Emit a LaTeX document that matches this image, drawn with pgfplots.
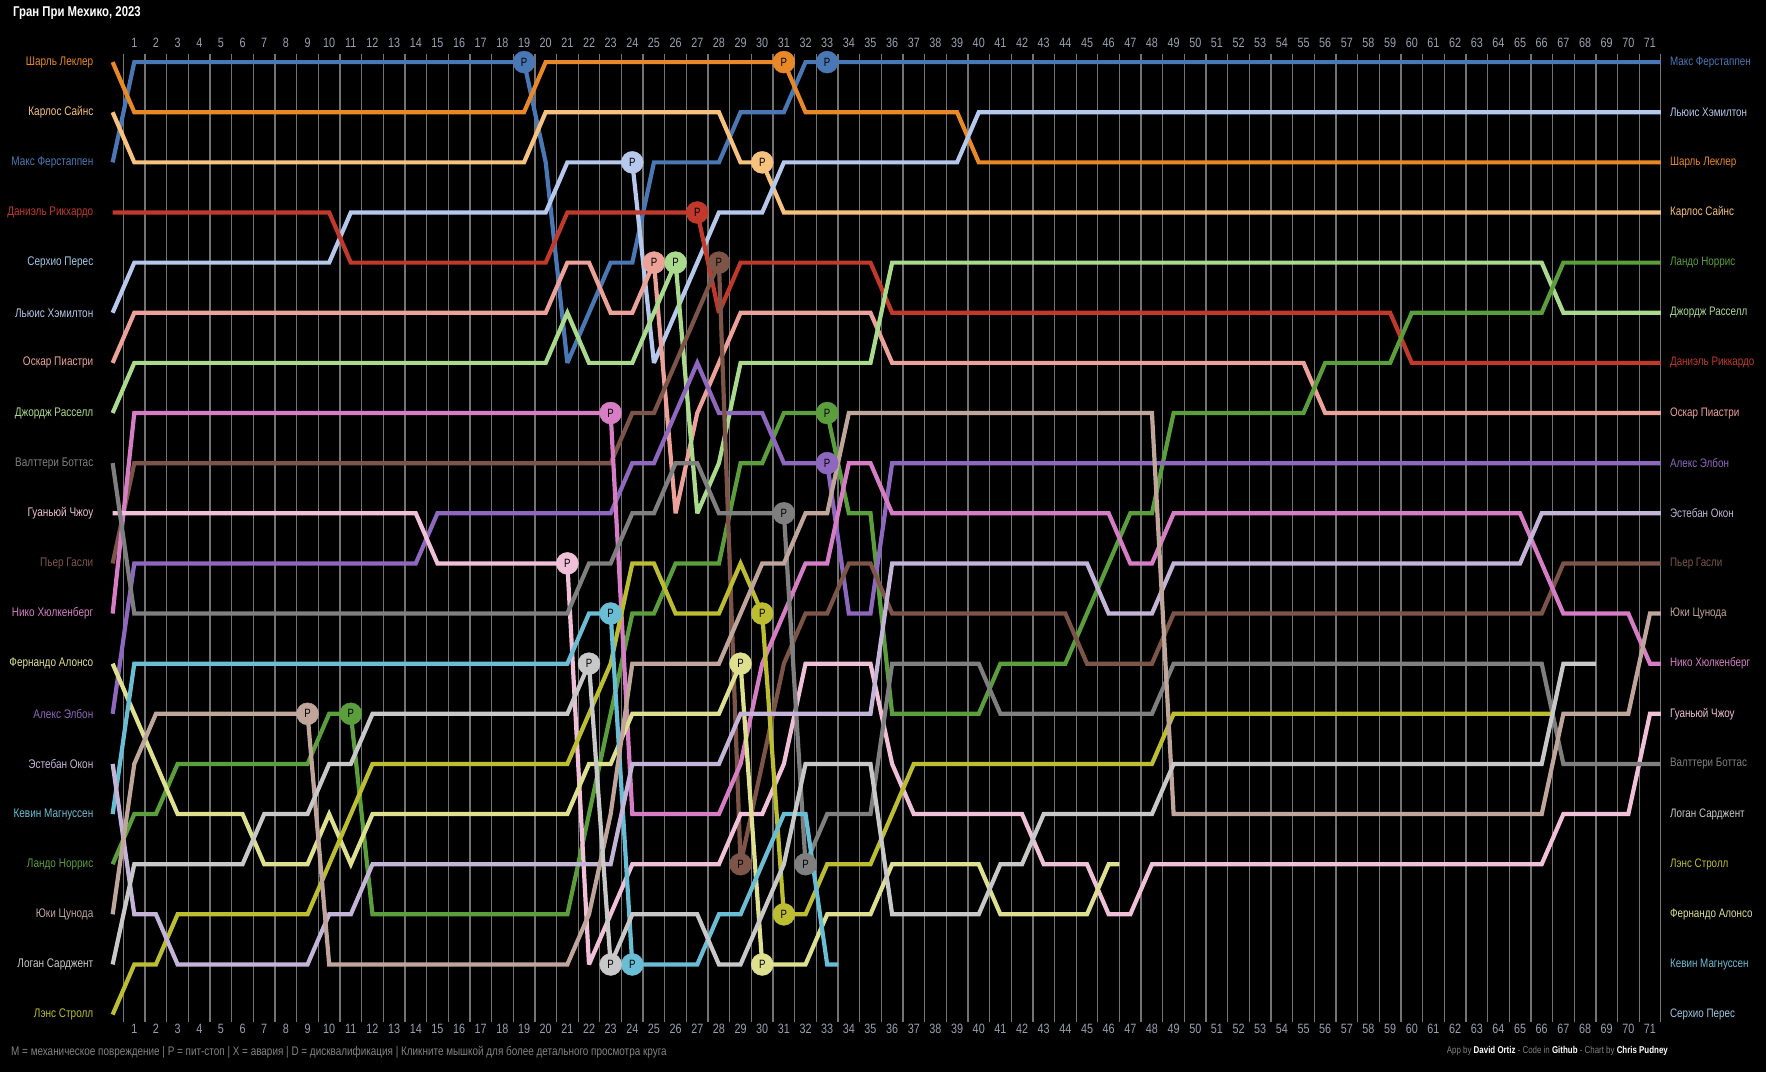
\documentclass[border=0pt]{standalone}
\usepackage{fontspec}
\setmainfont{Liberation Sans}[FakeStretch=0.8]
\usepackage{pgfplots}
\pgfplotsset{compat=1.18}
\definecolor{cver}{RGB}{74,120,181}
\definecolor{clec}{RGB}{232,136,38}
\definecolor{csai}{RGB}{246,194,125}
\definecolor{cham}{RGB}{182,200,236}
\definecolor{cper}{RGB}{160,200,230}
\definecolor{cric}{RGB}{192,57,43}
\definecolor{cpia}{RGB}{236,162,152}
\definecolor{crus}{RGB}{170,218,140}
\definecolor{cnor}{RGB}{91,158,60}
\definecolor{calb}{RGB}{142,103,190}
\definecolor{coco}{RGB}{196,180,216}
\definecolor{cgas}{RGB}{125,85,72}
\definecolor{ctsu}{RGB}{192,165,154}
\definecolor{chul}{RGB}{214,125,197}
\definecolor{czho}{RGB}{240,192,216}
\definecolor{cbot}{RGB}{127,127,127}
\definecolor{csar}{RGB}{200,200,200}
\definecolor{cstr}{RGB}{188,189,48}
\definecolor{calo}{RGB}{222,224,143}
\definecolor{cmag}{RGB}{105,190,214}
\definecolor{gridcol}{RGB}{115,115,115}
\definecolor{tickcol}{RGB}{150,160,175}
\definecolor{footcol}{RGB}{130,130,130}
\pgfplotsset{
  drv/.style={line width=4.2pt, mark=none, color=#1, line join=miter, miter limit=3},
  pit/.style={only marks, mark=*, mark size=11pt, color=#1,
    mark options={fill=#1, draw=#1},
    nodes near coords={P},
    every node near coord/.append style={anchor=center, text=black, inner sep=0pt,
      font=\fontsize{12}{12}\selectfont}},
  base/.style={scale only axis, width=1580.67pt, height=968.3pt,
    at={(91pt,50pt)}, anchor=south west,
    xmin=-1, xmax=72, ymin=0.8324, ymax=20.148, y dir=reverse,
    axis line style={draw=none}, ytick=\empty,
    xtick={1,...,71}, major tick length=0pt, minor tick length=0pt,
    /pgf/number format/assume math mode=true,
    clip=false}
}
\newcommand{\lbl}[3]{\node[anchor=east, inner sep=0pt, text=#3, font=\fontsize{12.5}{13}\selectfont] at (axis cs:-0.884,#1) {#2};}
\newcommand{\rbl}[3]{\node[anchor=west, inner sep=0pt, text=#3, font=\fontsize{12.3}{13}\selectfont] at (axis cs:71.92,#1) {#2};}
\begin{document}
\begin{tikzpicture}[x=1pt,y=1pt]
\fill[black] (0,0) rectangle (1766,1072);
\useasboundingbox (0,0) rectangle (1766,1072);
\begin{axis}[base,
  minor xtick={0.5,1.5,...,71.5},
  xminorgrids=true,
  minor grid style={draw=gridcol, line width=1.3pt},
  xticklabel style={font=\fontsize{13.5}{14}\selectfont, text=tickcol, inner sep=0pt, yshift=-2pt}]
% drivers
\addplot[drv=cver] coordinates {(0,3)(1,1)(19,1)(20,3)(21,7)(22,6)(23,5)(24,5)(25,3)(28,3)(29,2)(31,2)(32,1)(71.5,1)};
\addplot[drv=clec] coordinates {(0,1)(1,2)(19,2)(20,1)(31,1)(32,2)(39,2)(40,3)(71.5,3)};
\addplot[drv=csai] coordinates {(0,2)(1,3)(19,3)(20,2)(28,2)(29,3)(30,3)(31,4)(71.5,4)};
\addplot[drv=cham] coordinates {(0,6)(1,5)(10,5)(11,4)(20,4)(21,3)(24,3)(25,7)(26,6)(27,5)(28,4)(30,4)(31,3)(39,3)(40,2)(71.5,2)};
\addplot[drv=cric] coordinates {(0,4)(10,4)(11,5)(20,5)(21,4)(27,4)(28,6)(29,5)(35,5)(36,6)(59,6)(60,7)(71.5,7)};
\addplot[drv=cpia] coordinates {(0,7)(1,6)(20,6)(21,5)(22,5)(23,6)(24,6)(25,5)(26,10)(27,8)(28,7)(29,6)(35,6)(36,7)(55,7)(56,8)(71.5,8)};
\addplot[drv=crus] coordinates {(0,8)(1,7)(20,7)(21,6)(22,7)(24,7)(25,6)(26,5)(27,10)(28,9)(29,7)(35,7)(36,5)(66,5)(67,6)(71.5,6)};
\addplot[drv=cnor] coordinates {(0,17)(1,16)(2,16)(3,15)(9,15)(10,14)(11,14)(12,18)(21,18)(22,16)(23,14)(24,12)(25,12)(26,11)(28,11)(29,9)(30,9)(31,8)(33,8)(34,10)(35,10)(36,14)(40,14)(41,13)(44,13)(45,12)(46,11)(47,10)(48,10)(49,8)(55,8)(56,7)(59,7)(60,6)(66,6)(67,5)(71.5,5)};
\addplot[drv=calb] coordinates {(0,14)(1,11)(14,11)(15,10)(23,10)(24,9)(25,9)(26,8)(27,7)(28,8)(30,8)(31,9)(33,9)(34,12)(35,12)(36,9)(71.5,9)};
\addplot[drv=cgas] coordinates {(0,11)(1,9)(23,9)(24,8)(25,8)(26,7)(27,6)(28,5)(29,17)(30,15)(31,13)(32,12)(33,12)(34,11)(35,11)(36,12)(44,12)(45,13)(48,13)(49,12)(66,12)(67,11)(71.5,11)};
\addplot[drv=chul] coordinates {(0,12)(1,8)(23,8)(24,16)(28,16)(29,15)(30,13)(31,12)(32,11)(33,11)(34,9)(35,9)(36,10)(46,10)(47,11)(48,11)(49,10)(65,10)(66,11)(67,12)(70,12)(71,13)(71.5,13)};
\addplot[drv=czho] coordinates {(0,10)(14,10)(15,11)(21,11)(22,19)(23,18)(24,17)(28,17)(29,16)(30,16)(31,15)(32,13)(35,13)(36,15)(37,16)(42,16)(43,17)(45,17)(46,18)(47,18)(48,17)(66,17)(67,16)(70,16)(71,14)(71.5,14)};
\addplot[drv=cbot] coordinates {(0,9)(1,12)(21,12)(22,11)(23,11)(24,10)(25,10)(26,9)(27,9)(28,10)(31,10)(32,17)(33,16)(35,16)(36,13)(40,13)(41,14)(48,14)(49,13)(66,13)(67,15)(71.5,15)};
\addplot[drv=calo] coordinates {(0,13)(3,16)(6,16)(7,17)(9,17)(10,16)(11,17)(12,16)(21,16)(22,15)(23,15)(24,14)(28,14)(29,13)(30,19)(32,19)(33,18)(35,18)(36,17)(40,17)(41,18)(45,18)(46,17)(46.5,17)};
\addplot[drv=cstr] coordinates {(0,20)(1,19)(2,19)(3,18)(9,18)(12,15)(21,15)(22,14)(23,13)(24,11)(25,11)(26,12)(28,12)(29,11)(30,12)(31,18)(32,18)(33,17)(35,17)(37,15)(48,15)(49,14)(66,14)(66.5,14)};
\addplot[drv=cmag] coordinates {(0,16)(1,13)(21,13)(22,12)(23,12)(24,19)(27,19)(28,18)(29,18)(31,16)(32,16)(33,19)(33.5,19)};
\addplot[drv=coco] coordinates {(0,15)(1,18)(2,18)(3,19)(9,19)(10,18)(11,18)(12,17)(23,17)(24,15)(28,15)(29,14)(35,14)(36,11)(45,11)(46,12)(48,12)(49,11)(65,11)(66,10)(71.5,10)};
\addplot[drv=ctsu] coordinates {(0,18)(1,15)(2,14)(9,14)(10,19)(21,19)(22,18)(23,16)(24,13)(28,13)(29,12)(30,11)(31,11)(32,10)(33,10)(34,8)(48,8)(49,16)(66,16)(67,14)(70,14)(71,12)(71.5,12)};
\addplot[drv=csar] coordinates {(0,19)(1,17)(6,17)(7,16)(9,16)(10,15)(11,15)(12,14)(21,14)(22,13)(23,19)(24,18)(27,18)(28,19)(29,19)(30,18)(31,17)(32,15)(35,15)(36,18)(40,18)(41,17)(42,17)(43,16)(48,16)(49,15)(66,15)(67,13)(68,13)(68.5,13)};
% pit stops
\addplot[pit=cver] coordinates {(19,1)(33,1)};
\addplot[pit=clec] coordinates {(31,1)};
\addplot[pit=csai] coordinates {(30,3)};
\addplot[pit=cham] coordinates {(24,3)};
\addplot[pit=cric] coordinates {(27,4)};
\addplot[pit=cpia] coordinates {(25,5)};
\addplot[pit=crus] coordinates {(26,5)};
\addplot[pit=cgas] coordinates {(28,5)(29,17)};
\addplot[pit=chul] coordinates {(23,8)};
\addplot[pit=cnor] coordinates {(11,14)(33,8)};
\addplot[pit=calb] coordinates {(33,9)};
\addplot[pit=cbot] coordinates {(31,10)(32,17)};
\addplot[pit=czho] coordinates {(21,11)};
\addplot[pit=ctsu] coordinates {(9,14)};
\addplot[pit=cmag] coordinates {(23,12)(24,19)};
\addplot[pit=csar] coordinates {(22,13)(23,19)};
\addplot[pit=calo] coordinates {(29,13)(30,19)};
\addplot[pit=cstr] coordinates {(30,12)(31,18)};
% left labels (start grid)
\lbl{1}{Шарль Леклер}{clec}
\lbl{2}{Карлос Сайнс}{csai}
\lbl{3}{Макс Ферстаппен}{cver}
\lbl{4}{Даниэль Рикхардо}{cric}
\lbl{5}{Серхио Перес}{cper}
\lbl{6}{Льюис Хэмилтон}{cham}
\lbl{7}{Оскар Пиастри}{cpia}
\lbl{8}{Джордж Расселл}{crus}
\lbl{9}{Валттери Боттас}{cbot}
\lbl{10}{Гуаньюй Чжоу}{czho}
\lbl{11}{Пьер Гасли}{cgas}
\lbl{12}{Нико Хюлкенберг}{chul}
\lbl{13}{Фернандо Алонсо}{calo}
\lbl{14}{Алекс Элбон}{calb}
\lbl{15}{Эстебан Окон}{coco}
\lbl{16}{Кевин Магнуссен}{cmag}
\lbl{17}{Ландо Норрис}{cnor}
\lbl{18}{Юки Цунода}{ctsu}
\lbl{19}{Логан Сарджент}{csar}
\lbl{20}{Лэнс Стролл}{cstr}
% right labels (result)
\rbl{1}{Макс Ферстаппен}{cver}
\rbl{2}{Льюис Хэмилтон}{cham}
\rbl{3}{Шарль Леклер}{clec}
\rbl{4}{Карлос Сайнс}{csai}
\rbl{5}{Ландо Норрис}{cnor}
\rbl{6}{Джордж Расселл}{crus}
\rbl{7}{Даниэль Риккардо}{cric}
\rbl{8}{Оскар Пиастри}{cpia}
\rbl{9}{Алекс Элбон}{calb}
\rbl{10}{Эстебан Окон}{coco}
\rbl{11}{Пьер Гасли}{cgas}
\rbl{12}{Юки Цунода}{ctsu}
\rbl{13}{Нико Хюлкенберг}{chul}
\rbl{14}{Гуаньюй Чжоу}{czho}
\rbl{15}{Валттери Боттас}{cbot}
\rbl{16}{Логан Сарджент}{csar}
\rbl{17}{Лэнс Стролл}{cstr}
\rbl{18}{Фернандо Алонсо}{calo}
\rbl{19}{Кевин Магнуссен}{cmag}
\rbl{20}{Серхио Перес}{cper}
\end{axis}
\begin{axis}[base, xticklabel pos=upper,
  xticklabel style={font=\fontsize{13.5}{14}\selectfont, text=tickcol, inner sep=0pt, yshift=6pt}]
\end{axis}
\node[anchor=west, inner sep=0pt, text=white, font=\fontsize{14.2}{15}\selectfont\bfseries] at (13,1058.5) {Гран При Мехико, 2023};
\node[anchor=west, inner sep=0pt, text=footcol, font=\fontsize{12.4}{13}\selectfont] at (11,20) {M = механическое повреждение | P = пит-стоп | X = авария | D = дисквалификация | Кликните мышкой для более детального просмотра круга};
\node[anchor=east, inner sep=0pt, text=footcol, font=\fontsize{9.9}{11}\selectfont] at (1668,21) {App by \textcolor{white}{\bfseries David Ortiz} - Code in \textcolor{white}{\bfseries Github} - Chart by \textcolor{white}{\bfseries Chris Pudney}};
\end{tikzpicture}
\end{document}
